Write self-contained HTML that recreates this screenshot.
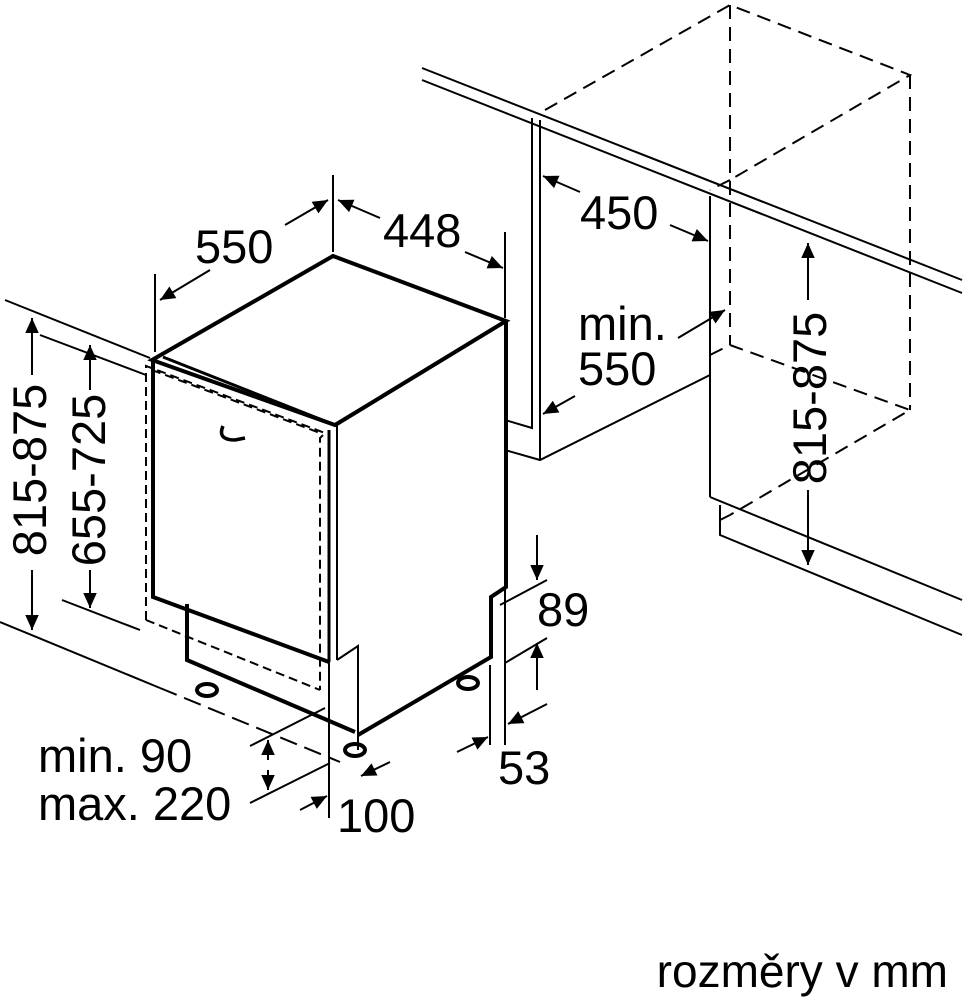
<!DOCTYPE html>
<html><head><meta charset="utf-8"><style>
html,body{margin:0;padding:0;background:#fff}
svg{display:block}
text{font-family:"Liberation Sans",Arial,sans-serif;fill:#000}
</style></head><body>
<svg width="965" height="998" viewBox="0 0 965 998" xmlns="http://www.w3.org/2000/svg">
<defs>
<marker id="b" viewBox="0 0 10 10" refX="10" refY="5" markerWidth="22" markerHeight="15" orient="auto-start-reverse" markerUnits="userSpaceOnUse"><path d="M0,0.5 L10,5 L0,9.5 z" fill="#000"/></marker>
</defs>
<g fill="none" stroke="#000" stroke-width="2">
<line x1="422" y1="68" x2="962" y2="280"/>
<line x1="422" y1="80" x2="962" y2="293"/>
<line x1="532" y1="118" x2="532" y2="420"/>
<line x1="540" y1="120" x2="540" y2="460"/>
<polyline points="505,420 532,428 532,420"/>
<polyline points="505,450 540,460 710,375"/>
<line x1="505" y1="420" x2="505" y2="600"/>
<line x1="710" y1="196" x2="710" y2="497"/>
<line x1="710" y1="497" x2="962" y2="600"/>
<polyline points="720,505 720,535 962,635"/>
<g stroke-dasharray="14,8">
<polyline points="545,110 730,5 910,75 730,180"/>
<line x1="730" y1="5" x2="730" y2="345"/>
<line x1="910" y1="75" x2="910" y2="410"/>
<polyline points="710,355 730,345 910,410 730,515"/>
<line x1="730" y1="515" x2="720" y2="520"/>
<line x1="730" y1="180" x2="710" y2="190"/>
</g>
<line x1="5" y1="300" x2="150" y2="358"/>
<line x1="40" y1="335" x2="146" y2="375"/>
<line x1="62" y1="600" x2="140" y2="630"/>
<line x1="0" y1="622" x2="160" y2="688"/>
<line x1="160" y1="688" x2="340" y2="762" stroke-dasharray="18,8"/>
<polygon points="152,360 333,256 506,321 335,425" stroke-width="4" fill="none"/>
<line x1="163" y1="357" x2="335" y2="425" stroke-width="3"/>
<line x1="337" y1="425" x2="506" y2="322"/>
<polyline points="153,360 153,597 329,662" stroke-width="4"/>
<line x1="329" y1="430" x2="329" y2="662" stroke-width="3"/>
<line x1="337" y1="425" x2="337" y2="660"/>
<polyline points="506,320 506,587 491,597 491,657 358,735" stroke-width="4"/>
<polyline points="187,604 187,660 355,732" stroke-width="4"/>
<polyline points="337,660 358,646 358,750"/>
<line x1="329" y1="662" x2="329" y2="818"/>
<g stroke-dasharray="9,5">
<polyline points="146,620 146,366 325,433 320,438 320,690"/>
<line x1="146" y1="620" x2="320" y2="690"/>
<line x1="152" y1="370" x2="320" y2="433"/>
</g>
<path d="M223,426 q-6,14 12,14 l10,-2" stroke-width="3.5"/>
<ellipse cx="207" cy="690" rx="10" ry="6" stroke-width="4"/>
<ellipse cx="355" cy="750" rx="10" ry="6" stroke-width="4"/>
<ellipse cx="468" cy="683" rx="10" ry="6" stroke-width="4"/>
<line x1="155" y1="274" x2="155" y2="352"/>
<line x1="333" y1="175" x2="333" y2="252"/>
<line x1="505" y1="232" x2="505" y2="318"/>
<line x1="210" y1="270" x2="160" y2="300" marker-end="url(#b)"/>
<line x1="285" y1="225" x2="328" y2="200" marker-end="url(#b)"/>
<line x1="380" y1="218" x2="338" y2="200" marker-end="url(#b)"/>
<line x1="465" y1="252" x2="503" y2="268" marker-end="url(#b)"/>
<line x1="580" y1="192" x2="543" y2="176" marker-end="url(#b)"/>
<line x1="670" y1="225" x2="708" y2="241" marker-end="url(#b)"/>
<line x1="678" y1="338" x2="725" y2="310" marker-end="url(#b)"/>
<line x1="575" y1="396" x2="543" y2="414" marker-end="url(#b)"/>
<line x1="808" y1="300" x2="808" y2="243" marker-end="url(#b)"/>
<line x1="808" y1="490" x2="808" y2="565" marker-end="url(#b)"/>
<line x1="32" y1="375" x2="32" y2="318" marker-end="url(#b)"/>
<line x1="32" y1="570" x2="32" y2="630" marker-end="url(#b)"/>
<line x1="90" y1="390" x2="90" y2="345" marker-end="url(#b)"/>
<line x1="90" y1="570" x2="90" y2="608" marker-end="url(#b)"/>
<line x1="500" y1="605" x2="547" y2="580"/>
<line x1="505" y1="663" x2="547" y2="638"/>
<line x1="505" y1="600" x2="505" y2="745"/>
<line x1="490" y1="665" x2="490" y2="745"/>
<line x1="537" y1="535" x2="537" y2="580" marker-end="url(#b)"/>
<line x1="537" y1="690" x2="537" y2="643" marker-end="url(#b)"/>
<line x1="457" y1="752" x2="488" y2="737" marker-end="url(#b)"/>
<line x1="547" y1="704" x2="508" y2="724" marker-end="url(#b)"/>
<line x1="250" y1="746" x2="325" y2="708"/>
<line x1="250" y1="803" x2="330" y2="763"/>
<line x1="268" y1="760" x2="268" y2="740" marker-end="url(#b)"/>
<line x1="268" y1="770" x2="268" y2="790" marker-end="url(#b)"/>
<line x1="300" y1="810" x2="327" y2="796" marker-end="url(#b)"/>
<line x1="390" y1="762" x2="361" y2="776" marker-end="url(#b)"/>
</g>
<g font-size="47">
<text x="195" y="263">550</text>
<text x="383" y="247">448</text>
<text x="580" y="229">450</text>
<text x="578" y="340">min.</text>
<text x="578" y="385">550</text>
<text x="537" y="626">89</text>
<text x="498" y="784">53</text>
<text x="38" y="772">min. 90</text>
<text x="38" y="820">max. 220</text>
<text x="337" y="832">100</text>
<text transform="translate(46,470) rotate(-90)" text-anchor="middle">815-875</text>
<text transform="translate(105,480) rotate(-90)" text-anchor="middle">655-725</text>
<text transform="translate(826,398) rotate(-90)" text-anchor="middle">815-875</text>
</g>
<text x="948" y="987" font-size="46" text-anchor="end">rozměry v mm</text>
</svg>
</body></html>
